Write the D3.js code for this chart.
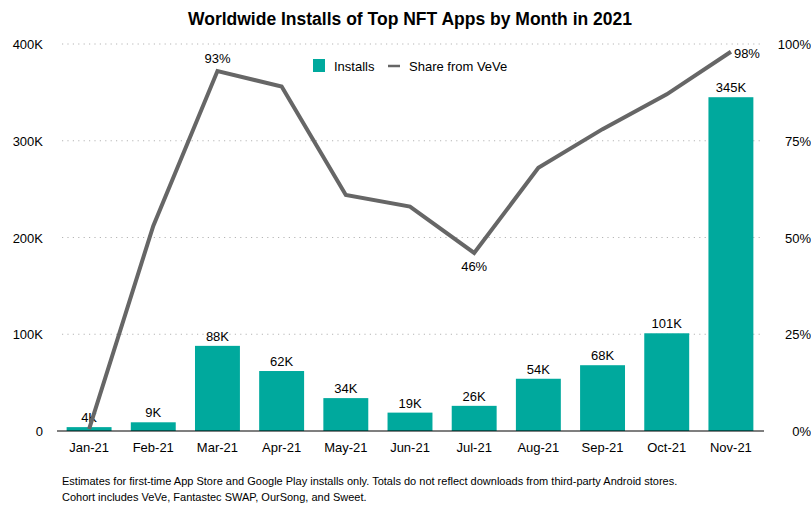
<!DOCTYPE html>
<html>
<head>
<meta charset="utf-8">
<script src="https://cdn.jsdelivr.net/npm/d3@7"></script>
<style>
  body { margin: 0; background: #fff; }
  svg { font-family: "Liberation Sans", Arial, sans-serif; }
</style>
</head>
<body>
<svg id="chart" width="811" height="505"></svg>
<script>
// data
const months = ["Jan-21","Feb-21","Mar-21","Apr-21","May-21","Jun-21","Jul-21","Aug-21","Sep-21","Oct-21","Nov-21"];
const installs = [4, 9, 88, 62, 34, 19, 26, 54, 68, 101, 345]; // thousands
const veveShare = [0.5, 53, 93, 89, 61, 58, 46, 68, 78, 87, 98]; // percent
const leftTicks = [0, 100, 200, 300, 400];
const rightTicks = [0, 25, 50, 75, 100];
const shareLabels = {2: "above", 6: "below", 10: "right"};

const teal = "#00a99d";
const grey = "#666666";

let svg = d3.select("#chart");

let x = d3.scaleBand().domain(months).range([57, 763]).paddingInner(0.3).paddingOuter(0.15);
let yL = d3.scaleLinear().domain([0, 400]).range([431, 44]);
let yR = d3.scaleLinear().domain([0, 100]).range([431, 44]);

// title
svg.append("text")
  .attr("x", 410).attr("y", 25)
  .attr("text-anchor", "middle")
  .style("font-weight", "bold")
  .style("font-size", "17.5px")
  .text("Worldwide Installs of Top NFT Apps by Month in 2021");

// gridlines
svg.selectAll(".grid")
  .data(leftTicks.filter(d => d > 0))
  .join("line")
  .attr("x1", 62).attr("x2", 762)
  .attr("y1", d => yL(d)).attr("y2", d => yL(d))
  .attr("stroke", "#b5b5b5")
  .attr("stroke-width", 1)
  .attr("stroke-dasharray", "1.2,4.2");

// left axis labels
svg.selectAll(".lt")
  .data(leftTicks)
  .join("text")
  .attr("x", 43).attr("y", d => yL(d) + 5)
  .attr("text-anchor", "end")
  .style("font-size", "13px")
  .text(d => d === 0 ? "0" : d + "K");

// right axis labels
svg.selectAll(".rt")
  .data(rightTicks)
  .join("text")
  .attr("x", 811).attr("y", d => yR(d) + 5)
  .attr("text-anchor", "end")
  .style("font-size", "13px")
  .text(d => d + "%");

// bars
svg.selectAll(".bar")
  .data(installs)
  .join("rect")
  .attr("x", (d, i) => x(months[i]))
  .attr("width", x.bandwidth())
  .attr("y", d => yL(d))
  .attr("height", d => yL(0) - yL(d))
  .attr("fill", teal);

// bar labels
svg.selectAll(".blab")
  .data(installs)
  .join("text")
  .attr("x", (d, i) => x(months[i]) + x.bandwidth() / 2)
  .attr("y", d => yL(d) - 5)
  .attr("text-anchor", "middle")
  .style("font-size", "13px")
  .text(d => d + "K");

// baseline
svg.append("line")
  .attr("x1", 57).attr("x2", 764)
  .attr("y1", yL(0)).attr("y2", yL(0))
  .attr("stroke", "#000").attr("stroke-width", 1.2);

// x labels
svg.selectAll(".xl")
  .data(months)
  .join("text")
  .attr("x", d => x(d) + x.bandwidth() / 2)
  .attr("y", 452)
  .attr("text-anchor", "middle")
  .style("font-size", "13px")
  .text(d => d);

// share line
let line = d3.line()
  .x((d, i) => x(months[i]) + x.bandwidth() / 2)
  .y(d => yR(d));

svg.append("path")
  .datum(veveShare)
  .attr("d", line)
  .attr("fill", "none")
  .attr("stroke", grey)
  .attr("stroke-width", 4)
  .attr("stroke-linejoin", "miter");

// share labels
Object.keys(shareLabels).forEach(k => {
  let i = +k;
  let cx = x(months[i]) + x.bandwidth() / 2;
  let cy = yR(veveShare[i]);
  let pos = shareLabels[k];
  let t = svg.append("text")
    .style("font-size", "13px")
    .text(veveShare[i] + "%");
  if (pos == "above") t.attr("x", cx).attr("y", cy - 8).attr("text-anchor", "middle");
  if (pos == "below") t.attr("x", cx).attr("y", cy + 18).attr("text-anchor", "middle");
  if (pos == "right") t.attr("x", cx + 3).attr("y", cy + 6).attr("text-anchor", "start");
});

// legend
svg.append("rect")
  .attr("x", 313).attr("y", 59)
  .attr("width", 12).attr("height", 13)
  .attr("fill", teal);
svg.append("text")
  .attr("x", 334).attr("y", 71)
  .style("font-size", "13px")
  .text("Installs");
svg.append("line")
  .attr("x1", 388).attr("x2", 400)
  .attr("y1", 66).attr("y2", 66)
  .attr("stroke", grey).attr("stroke-width", 2.5);
svg.append("text")
  .attr("x", 409).attr("y", 71)
  .style("font-size", "13px")
  .text("Share from VeVe");

// footnote
svg.append("text")
  .attr("x", 62).attr("y", 485)
  .style("font-size", "11px")
  .text("Estimates for first-time App Store and Google Play installs only. Totals do not reflect downloads from third-party Android stores.");
svg.append("text")
  .attr("x", 62).attr("y", 501)
  .style("font-size", "11px")
  .text("Cohort includes VeVe, Fantastec SWAP, OurSong, and Sweet.");
</script>
</body>
</html>
